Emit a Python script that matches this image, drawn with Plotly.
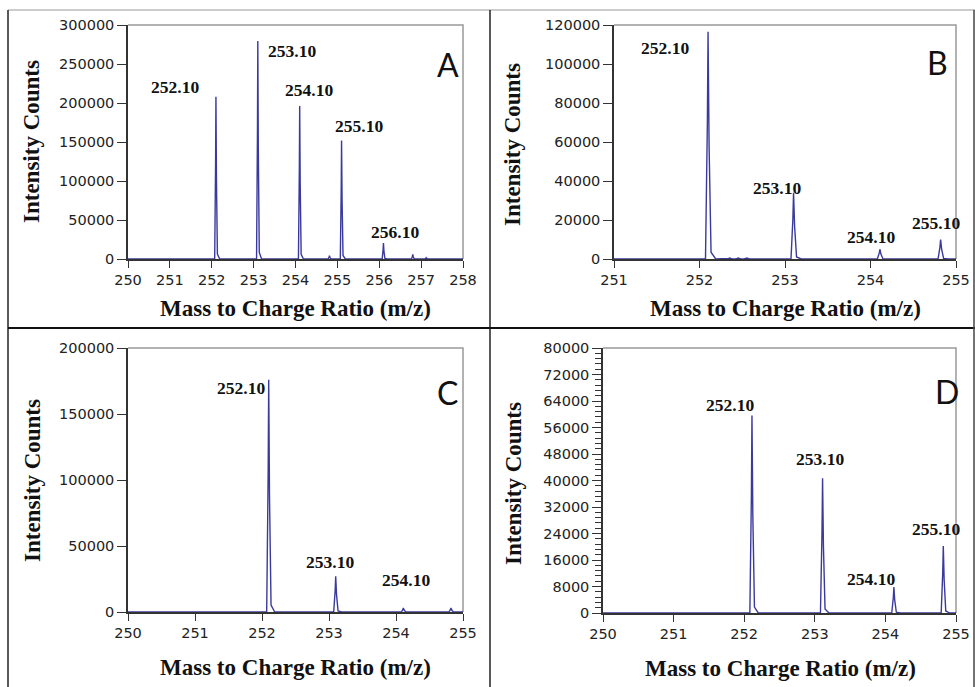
import plotly.graph_objects as go

# ---------------- data ----------------
A_mz = [252.10, 253.10, 254.10, 254.81, 255.10, 256.10, 256.80, 257.12]
A_int = [208000, 279500, 196000, 4300, 152000, 20500, 6000, 1700]
B_mz = [252.10, 252.35, 252.45, 252.55, 253.10, 254.11, 254.82]
B_int = [116500, 500, 500, 500, 34000, 5000, 10000]
C_mz = [252.10, 253.10, 254.11, 254.82]
C_int = [176000, 27000, 3000, 3000]
D_mz = [252.11, 253.11, 254.12, 254.82]
D_int = [59600, 40700, 7800, 20200]

A_labels = ["252.10", "253.10", "254.10", "255.10", "256.10"]
B_labels = ["252.10", "253.10", "254.10", "255.10"]
C_labels = ["252.10", "253.10", "254.10"]
D_labels = ["252.10", "253.10", "254.10", "255.10"]

# label anchor positions (data coords)
A_lab_x = [251.13, 253.92, 254.33, 255.52, 256.38]
A_lab_y = [220000, 266700, 216700, 170500, 34200]
B_lab_x = [251.60, 252.91, 254.01, 254.77]
B_lab_y = [108000, 36600, 11500, 18300]
C_lab_x = [251.68, 253.02, 254.15]
C_lab_y = [169700, 37900, 24500]
D_lab_x = [251.80, 253.07, 253.80, 254.72]
D_lab_y = [62900, 46400, 10300, 25400]

W, H = 975, 687

# peak drawing style (shape of one peak)
PK_DX = [-0.03, -0.008, 0.0, 0.012, 0.035, 0.09]
PK_FR = [0.0, 0.6, 1.0, 0.5, 0.03, 0.0]


def spectrum(mz, inten, xr):
    xs, ys = [xr[0]], [0]
    for c, h in sorted(zip(mz, inten)):
        for dx, fr in zip(PK_DX, PK_FR):
            xs.append(c + dx)
            ys.append(h * fr)
    xs.append(xr[1])
    ys.append(0)
    return xs, ys


panels = [
    dict(n="", mz=A_mz, it=A_int, xr=[250, 258], yr=[0, 300000], dy=50000,
         px=(128, 463), py=(25, 259), labs=A_labels, lx=A_lab_x, ly=A_lab_y,
         letter="A", lpos=(448, 64), yt=(32, 142), xt=(295.5, 308), minor=None),
    dict(n="2", mz=B_mz, it=B_int, xr=[251, 255], yr=[0, 120000], dy=20000,
         px=(614, 956), py=(25, 259), labs=B_labels, lx=B_lab_x, ly=B_lab_y,
         letter="B", lpos=(937, 63), yt=(513, 145), xt=(785, 308), minor=None),
    dict(n="3", mz=C_mz, it=C_int, xr=[250, 255], yr=[0, 200000], dy=50000,
         px=(128, 463), py=(348, 612), labs=C_labels, lx=C_lab_x, ly=C_lab_y,
         letter="C", lpos=(447, 392), yt=(32, 481), xt=(295, 667), minor=None),
    dict(n="4", mz=D_mz, it=D_int, xr=[250, 255], yr=[0, 80000], dy=8000,
         px=(603, 956), py=(348, 613), labs=D_labels, lx=D_lab_x, ly=D_lab_y,
         letter="D", lpos=(947, 391), yt=(513, 484), xt=(780, 668), minor=1600),
]

fig = go.Figure()
annotations = []
shapes = []
tickfont = dict(family="DejaVu Sans", size=14.5, color="#222")
serif_b = "Liberation Serif"

for p in panels:
    xs, ys = spectrum(p["mz"], p["it"], p["xr"])
    xa = "x" + p["n"]
    ya = "y" + p["n"]
    fig.add_trace(go.Scatter(x=xs, y=ys, mode="lines", xaxis=xa, yaxis=ya,
                             line=dict(color="#3a3a9e", width=1.4),
                             showlegend=False, hoverinfo="skip"))
    xkey = "xaxis" + p["n"]
    ykey = "yaxis" + p["n"]
    xdom = [p["px"][0] / W, p["px"][1] / W]
    ydom = [1 - p["py"][1] / H, 1 - p["py"][0] / H]
    yax = dict(domain=ydom, range=p["yr"], dtick=p["dy"], tick0=0,
               tickformat="d", showgrid=False, zeroline=False,
               showline=True, linecolor="#333", linewidth=1.5,
               ticks="outside", ticklen=9, tickcolor="#333", tickwidth=1,
               tickfont=tickfont, anchor=xa, automargin=False)
    if p["minor"]:
        yax["minor"] = dict(dtick=p["minor"], ticks="outside", ticklen=6,
                            tickcolor="#333", tickwidth=1, showgrid=False)
    fig.update_layout({
        xkey: dict(domain=xdom, range=p["xr"], dtick=1, tick0=250,
                   showgrid=False, zeroline=False, showline=True,
                   linecolor="#333", linewidth=1.5, ticks="outside",
                   ticklen=7, tickcolor="#333", tickwidth=1,
                   tickfont=tickfont, anchor=ya, automargin=False),
        ykey: yax,
    })
    # gray frame top/right
    shapes.append(dict(type="path", xref=xa + " domain", yref=ya + " domain",
                       path="M 0 1 L 1 1 L 1 0", line=dict(color="#999", width=1.5),
                       layer="below"))
    for t, x, y in zip(p["labs"], p["lx"], p["ly"]):
        annotations.append(dict(x=x, y=y, xref=xa, yref=ya, text=t,
                                showarrow=False, xanchor="center", yanchor="middle",
                                font=dict(family=serif_b, size=17.5, color="#111",
                                          weight="bold")))
    annotations.append(dict(x=p["lpos"][0] / W, y=1 - p["lpos"][1] / H,
                            xref="paper", yref="paper", text=p["letter"],
                            showarrow=False, xanchor="center", yanchor="middle",
                            font=dict(family="Lato", size=32, color="#111")))
    annotations.append(dict(x=p["yt"][0] / W, y=1 - p["yt"][1] / H,
                            xref="paper", yref="paper", text="Intensity Counts",
                            textangle=-90, showarrow=False,
                            xanchor="center", yanchor="middle",
                            font=dict(family=serif_b, size=23, color="#111",
                                      weight="bold")))
    annotations.append(dict(x=p["xt"][0] / W, y=1 - p["xt"][1] / H,
                            xref="paper", yref="paper",
                            text="Mass to Charge Ratio (m/z)", showarrow=False,
                            xanchor="center", yanchor="middle",
                            font=dict(family=serif_b, size=23, color="#111",
                                      weight="bold")))


def pline(x0, y0, x1, y1, color, width):
    return dict(type="line", xref="paper", yref="paper",
                x0=x0 / W, y0=1 - y0 / H, x1=x1 / W, y1=1 - y1 / H,
                line=dict(color=color, width=width))


shapes += [
    pline(8, 10, 975, 10, "#bbb", 1.5),
    pline(8, 10, 8, 687, "#222", 1.5),
    pline(490, 10, 490, 687, "#222", 1.5),
    pline(8, 328, 975, 328, "#111", 2),
    pline(974, 10, 974, 687, "#444", 1.5),
]

fig.update_layout(width=W, height=H,
                  margin=dict(l=0, r=0, t=0, b=0, pad=0, autoexpand=False),
                  paper_bgcolor="white", plot_bgcolor="white",
                  annotations=annotations, shapes=shapes, showlegend=False)

fig.write_html("out.html")
